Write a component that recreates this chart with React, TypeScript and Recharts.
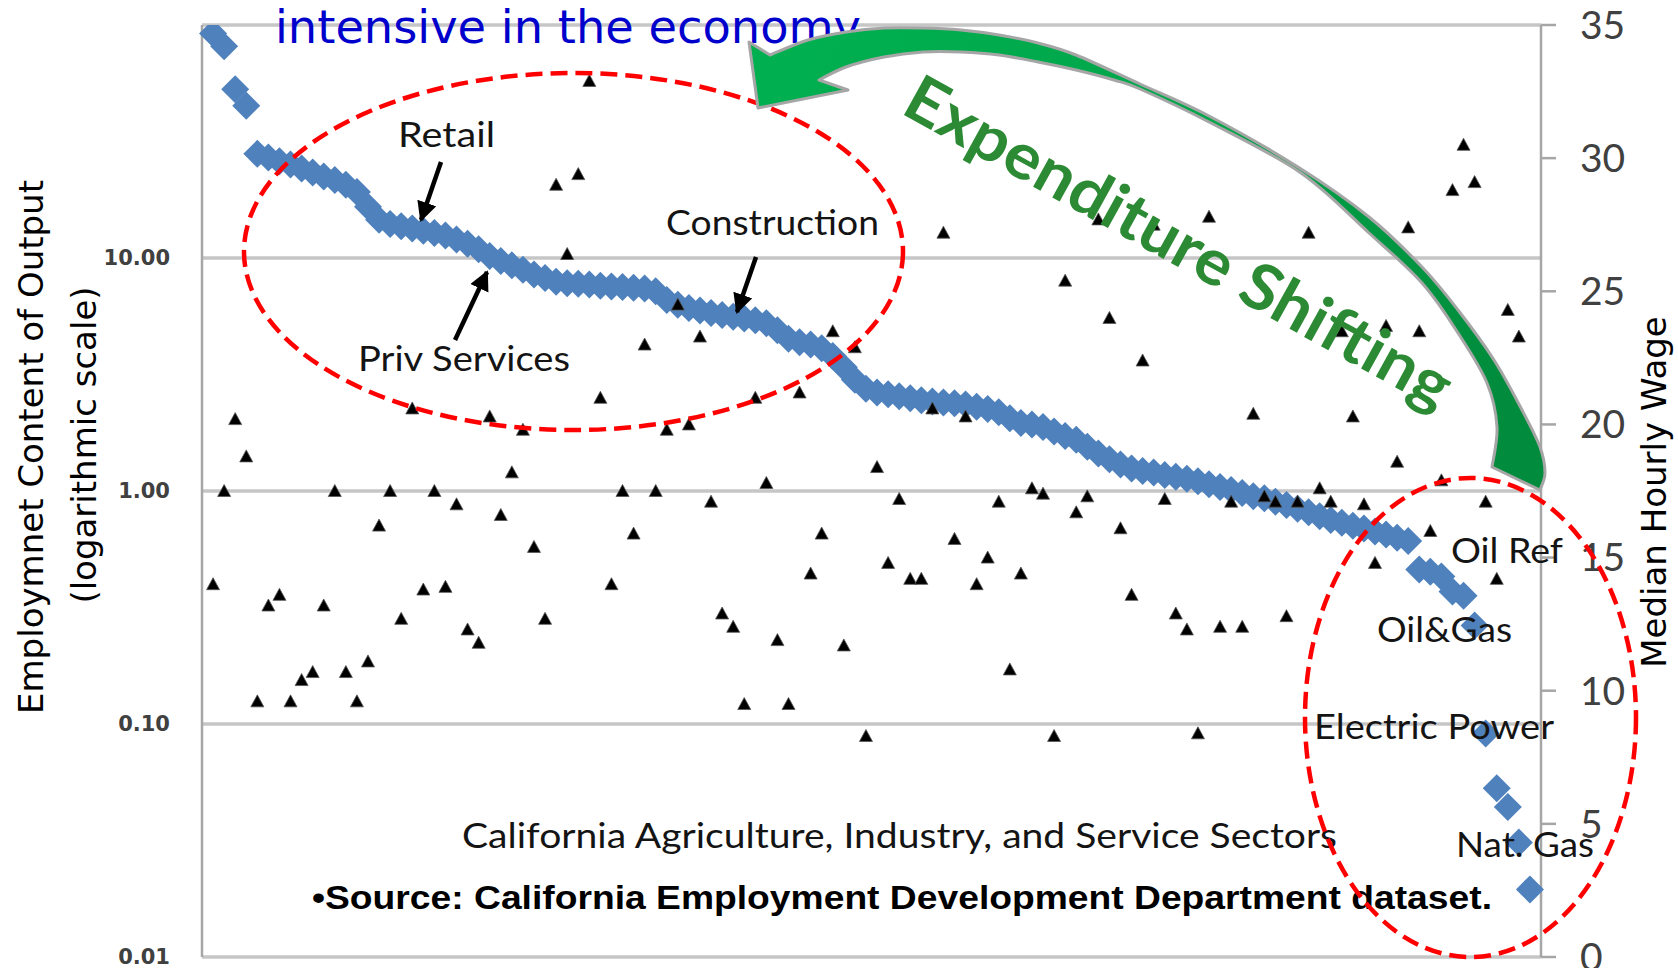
import { ScatterChart, Scatter, XAxis, YAxis, CartesianGrid } from 'recharts';

// employment content of output (jobs per $ output, log scale), sectors sorted high -> low
const sectorEmployment = [
  92, 81, 53, 45, 28.0, 27.0, 26.0, 25.2, 24.2, 23.3,
  22.4, 21.6, 20.6, 19.2, 16.6, 14.6, 14.0, 13.7, 13.4, 13.1,
  12.8, 12.5, 12.0, 11.5, 10.9, 10.2, 9.7, 9.3, 8.9, 8.5,
  8.2, 7.9, 7.8, 7.75, 7.7, 7.6, 7.55, 7.5, 7.45, 7.4,
  7.2, 6.6, 6.3, 6.1, 5.95, 5.8, 5.7, 5.6, 5.5, 5.4,
  5.25, 4.9, 4.5, 4.35, 4.25, 4.1, 3.8, 3.4, 3.0, 2.75,
  2.65, 2.6, 2.55, 2.5, 2.45, 2.42, 2.4, 2.38, 2.35, 2.3,
  2.25, 2.18, 2.05, 1.96, 1.93, 1.88, 1.8, 1.72, 1.66, 1.55,
  1.45, 1.37, 1.3, 1.25, 1.22, 1.2, 1.17, 1.15, 1.13, 1.1,
  1.07, 1.04, 1.01, 0.98, 0.95, 0.93, 0.9, 0.87, 0.84, 0.81,
  0.78, 0.75, 0.73, 0.71, 0.69, 0.67, 0.65, 0.63, 0.61, 0.46,
  0.45, 0.43, 0.37, 0.355, 0.265, 0.091, 0.053, 0.044, 0.031, 0.0195,
];

// median hourly wage for the same sectors
const sectorWage = [
  14.0, 17.5, 20.2, 18.8, 9.6, 13.2, 13.6, 9.6, 10.4, 10.7,
  13.2, 17.5, 10.7, 9.6, 11.1, 16.2, 17.5, 12.7, 20.6, 13.8,
  17.5, 13.9, 17.0, 12.3, 11.8, 20.3, 16.6, 18.2, 19.8, 15.4,
  12.7, 29.0, 26.4, 29.4, 32.9, 21.0, 14.0, 17.5, 15.9, 23.0,
  17.5, 19.8, 24.5, 20.0, 23.3, 17.1, 12.9, 12.4, 9.5, 21.0,
  17.8, 11.9, 9.5, 21.2, 14.4, 15.9, 23.5, 11.7, 22.9, 8.3,
  18.4, 14.8, 17.2, 14.2, 14.2, 20.6, 27.2, 15.7, 20.3, 14.0,
  15.0, 17.1, 10.8, 14.4, 17.6, 17.4, 8.3, 25.4, 16.7, 17.3,
  27.7, 24.0, 16.1, 13.6, 22.4, 27.5, 17.2, 12.9, 12.3, 8.4,
  27.8, 12.4, 17.1, 12.4, 20.4, 17.3, 17.1, 12.8, 17.1, 27.2,
  17.6, 17.1, 23.5, 20.3, 17.0, 14.8, 23.7, 18.6, 27.4, 23.5,
  16.0, 17.9, 28.8, 30.5, 29.1, 17.1, 14.2, 24.3, 23.3,
];

const employmentTicks = [0.01, 0.1, 1, 10];
const wageTicks = [0, 5, 10, 15, 20, 25, 30, 35];

const employmentPoints = sectorEmployment.map((y, i) => ({ x: i + 1, y }));
const wagePoints = sectorWage.map((y, i) => ({ x: i + 1, y }));

const W = 1678;
const H = 968;
const AXIS_W = 100;

const LABEL_FONT = 'Lato, "Open Sans", sans-serif';
const AXIS_GRAY = '#A6A6A6';

function Diamond(props: any) {
  const { cx, cy } = props;
  const r = 14;
  return (
    <polygon
      points={`${cx},${cy - r} ${cx + r},${cy} ${cx},${cy + r} ${cx - r},${cy}`}
      fill="#4F81BD"
    />
  );
}

function Triangle(props: any) {
  const { cx, cy } = props;
  return (
    <polygon
      points={`${cx},${cy - 6.5} ${cx + 6.5},${cy + 5.5} ${cx - 6.5},${cy + 5.5}`}
      fill="#000"
      stroke="#555"
      strokeWidth={0.8}
    />
  );
}

// catmull-rom through points -> cubic path segments
function smooth(pts: number[][], start = true) {
  let d = start ? `M${pts[0][0]},${pts[0][1]}` : `L${pts[0][0]},${pts[0][1]}`;
  for (let i = 0; i < pts.length - 1; i++) {
    const p0 = pts[i - 1] || pts[i];
    const p1 = pts[i];
    const p2 = pts[i + 1];
    const p3 = pts[i + 2] || p2;
    const c1 = [p1[0] + (p2[0] - p0[0]) / 6, p1[1] + (p2[1] - p0[1]) / 6];
    const c2 = [p2[0] - (p3[0] - p1[0]) / 6, p2[1] - (p3[1] - p1[1]) / 6];
    d += ` C${c1[0]},${c1[1]} ${c2[0]},${c2[1]} ${p2[0]},${p2[1]}`;
  }
  return d;
}

const arrowOuter = [
  [1540, 490], [1545, 473], [1540, 447], [1522, 410], [1494, 360], [1458, 310],
  [1422, 267], [1369, 217], [1298, 167], [1209, 116], [1140, 84], [1076, 55],
  [1038, 43], [999, 35], [961, 30], [923, 28], [884, 28], [846, 32], [808, 40], [770, 55],
];
const arrowInner = [
  [819, 80], [846, 67], [884, 57], [923, 52], [961, 52], [999, 55], [1038, 62],
  [1076, 70], [1114, 80], [1140, 89], [1209, 122], [1301, 173], [1369, 233],
  [1422, 283], [1458, 333], [1487, 383], [1497, 427], [1492, 467],
];
const arrowPath =
  smooth(arrowOuter) + ' L749,42 L758,108 L848,90 ' + smooth(arrowInner, false) + ' Z';

function Label({ x, y, w, children, size = 35 }: any) {
  return (
    <text
      x={x}
      y={y}
      fontFamily={LABEL_FONT}
      fontSize={size}
      fill="#141414"
      textLength={w}
      lengthAdjust="spacingAndGlyphs"
    >
      {children}
    </text>
  );
}

function Annotations() {
  return (
    <svg
      width={W}
      height={H}
      style={{ position: 'absolute', left: 0, top: 0, pointerEvents: 'none' }}
    >
      <defs>
        <marker id="head" markerUnits="userSpaceOnUse" markerWidth={22} markerHeight={22}
          refX={18} refY={10} orient="auto">
          <path d="M0,0 L20,10 L0,20 Z" fill="#000" />
        </marker>
        <linearGradient id="green" gradientUnits="userSpaceOnUse" x1={760} y1={60} x2={1480} y2={420}>
          <stop offset="0" stopColor="#00B050" />
          <stop offset="0.5" stopColor="#00A64A" />
          <stop offset="1" stopColor="#008C3C" />
        </linearGradient>
      </defs>

      <text x={275} y={43} fontFamily='"DejaVu Sans", Verdana, sans-serif' fontSize={46}
        fill="#0000CC" textLength={586} lengthAdjust="spacingAndGlyphs">
        intensive in the economy
      </text>

      {/* axis titles */}
      <g fontFamily='"DejaVu Sans", Verdana, sans-serif' fontSize={34} fill="#000">
        <text transform="translate(31,447) rotate(-90)" textAnchor="middle" dominantBaseline="central">
          Employmnet Content of Output
        </text>
        <text transform="translate(84,445) rotate(-90)" textAnchor="middle" dominantBaseline="central">
          (logarithmic scale)
        </text>
        <text transform="translate(1654,492) rotate(-90)" textAnchor="middle" dominantBaseline="central">
          Median Hourly Wage
        </text>
      </g>

      <Label x={398} y={147} w={97}>Retail</Label>
      <Label x={358} y={371} w={212}>Priv Services</Label>
      <Label x={666} y={235} w={213}>Construction</Label>
      <Label x={1451} y={563} w={112}>Oil Ref</Label>
      <Label x={1377} y={642} w={135}>Oil&amp;Gas</Label>
      <Label x={1314} y={739} w={240}>Electric Power</Label>
      <Label x={1456} y={857} w={138}>Nat. Gas</Label>
      <Label x={462} y={848} w={875}>California Agriculture, Industry, and Service Sectors</Label>

      <text x={312} y={909} fontFamily='"Liberation Sans", Arial, sans-serif' fontWeight="bold"
        fontSize={34} fill="#000" textLength={1180} lengthAdjust="spacingAndGlyphs">
        •Source: California Employment Development Department dataset.
      </text>

      <g stroke="#000" strokeWidth={4.5} markerEnd="url(#head)">
        <line x1={441} y1={162} x2={421} y2={220} />
        <line x1={455} y1={340} x2={487} y2={272} />
        <line x1={756} y1={257} x2={737} y2={312} />
      </g>

      <g fill="none" stroke="#FF0000" strokeWidth={4.5} strokeDasharray="17 8">
        <ellipse cx={573.5} cy={251.5} rx={329.5} ry={178.5} />
        <ellipse cx={1470.5} cy={717.5} rx={165.5} ry={239.5} />
      </g>

      <path d={arrowPath} fill="url(#green)" stroke="#A6A6A6" strokeWidth={3} strokeLinejoin="round" />

      <text
        transform="translate(1180,240) rotate(29)"
        textAnchor="middle"
        dominantBaseline="central"
        fontFamily={LABEL_FONT}
        fontWeight="bold"
        fontSize={64}
        fill="#2B8A33"
        textLength={615}
        lengthAdjust="spacingAndGlyphs"
      >
        Expenditure Shifting
      </text>
    </svg>
  );
}

export default function App() {
  return (
    <div style={{ position: 'absolute', left: 0, top: 0, width: W, height: H, background: '#fff' }}>
      <ScatterChart
        width={W}
        height={H}
        margin={{ top: 25, right: W - 1541 - AXIS_W, bottom: 11, left: 202 - AXIS_W }}
      >
        <CartesianGrid yAxisId="emp" vertical={false} stroke="#C6C6C6" strokeWidth={3.5} />
        <XAxis type="number" dataKey="x" domain={[0, 121]} hide />
        <YAxis
          yAxisId="emp"
          dataKey="y"
          scale="log"
          domain={[0.01, 100]}
          ticks={employmentTicks}
          interval={0}
          allowDataOverflow
          width={AXIS_W}
          axisLine={{ stroke: AXIS_GRAY, strokeWidth: 2.5 }}
          tickLine={false}
          tickSize={0}
          tickMargin={32}
          tickFormatter={(v: number) => v.toFixed(2)}
          tick={{ fontSize: 21, fill: '#404040', fontWeight: 'bold', fontFamily: '"DejaVu Sans", Verdana, sans-serif' }}
        />
        <YAxis
          yAxisId="wage"
          dataKey="y"
          orientation="right"
          domain={[0, 35]}
          ticks={wageTicks}
          interval={0}
          width={AXIS_W}
          axisLine={{ stroke: AXIS_GRAY, strokeWidth: 2.5 }}
          tickLine={{ stroke: AXIS_GRAY, strokeWidth: 2.5 }}
          tickSize={15}
          tickMargin={24}
          tick={{ fontSize: 39, fill: '#404040', fontFamily: LABEL_FONT }}
        />
        <Scatter
          yAxisId="emp"
          data={employmentPoints}
          shape={(p: any) => <Diamond {...p} />}
          isAnimationActive={false}
        />
        <Scatter
          yAxisId="wage"
          data={wagePoints}
          shape={(p: any) => <Triangle {...p} />}
          isAnimationActive={false}
        />
      </ScatterChart>
      <Annotations />
    </div>
  );
}
